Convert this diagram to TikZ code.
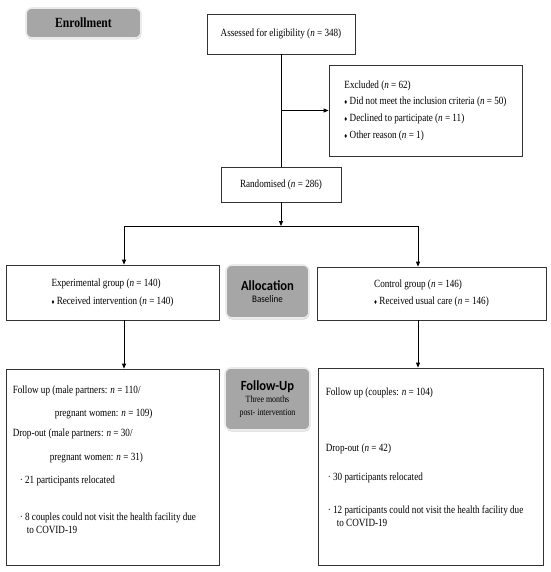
\documentclass[tikz,border=0pt]{standalone}
\usepackage{fontspec}
\setmainfont[FakeStretch=0.83]{Liberation Serif}
\newfontfamily\calfont[FakeStretch=0.9]{Carlito}
\usepackage{xcolor}
\usetikzlibrary{positioning}
\usetikzlibrary{arrows.meta}
\usetikzlibrary{shadows}

\definecolor{stagegray}{HTML}{A6A6A6}
\newcommand{\dmd}{{\fontsize{7}{7}\selectfont ♦}}
\newcommand{\nn}{\textit{n}}

\tikzset{
  flowbox/.style={draw=black!80, line width=0.8pt, fill=white, inner sep=4pt},
  stagebox/.style={draw=black!8, line width=1.6pt, rounded corners=6pt, fill=stagegray, align=center,
    drop shadow={shadow xshift=0.5pt, shadow yshift=-1.5pt, opacity=0.35}},
  flowline/.style={line width=0.8pt},
  flowarrow/.style={-{Triangle[length=5pt,width=4pt]}, line width=0.8pt},
}

\begin{document}
\begin{tikzpicture}[x=1pt, y=-1pt, font=\fontsize{11}{13}\selectfont]
\useasboundingbox (0,0) rectangle (550,572);

% stage labels
\node[stagebox, minimum width=115pt, minimum height=30pt] (enrol) at (83.5,23)
  {\fontsize{14}{16}\selectfont\bfseries Enrollment};
\node[stagebox, minimum width=83pt, minimum height=53pt] (alloc) at (267.5,291.5)
  {{\calfont\bfseries\fontsize{14}{16}\selectfont Allocation}\\[-1pt]{\calfont\fontsize{10}{12}\selectfont Baseline}};
\node[stagebox, minimum width=85pt, minimum height=62pt] (fustage) at (267.5,399)
  {{\calfont\bfseries\fontsize{14}{16}\selectfont Follow-Up}\\[-1pt]{\fontsize{9.5}{11}\selectfont Three months}\\{\fontsize{9.5}{11}\selectfont post- intervention}};

% enrolment
\node[flowbox, minimum width=148pt, minimum height=40pt] (assess) at (281,34)
  {Assessed for eligibility (\nn{} = 348)};
\node[flowbox, minimum width=193pt, minimum height=91pt, align=left] (excl) at (425.5,110.5)
  {Excluded (\nn{} = 62)\\[3.7pt]
   \dmd{} Did not meet the inclusion criteria (\nn{} = 50)\\[3.7pt]
   \dmd{} Declined to participate (\nn{} = 11)\\[3.7pt]
   \dmd{} Other reason (\nn{} = 1)};
\node[flowbox, minimum width=120pt, minimum height=35pt] (rand) at (281,184.5)
  {Randomised (\nn{} = 286)};

% allocation
\node[flowbox, minimum width=213pt, minimum height=55pt, align=left] (exp) at (112.5,292.5)
  {Experimental group (\nn{} = 140)\\[5pt]\dmd{} Received intervention (\nn{} = 140)};
\node[flowbox, minimum width=229pt, minimum height=53pt, align=left] (ctrl) at (431.5,293.5)
  {Control group (\nn{} = 146)\\[4pt]\dmd{} Received usual care (\nn{} = 146)};

% follow-up
\node[flowbox, minimum width=213pt, minimum height=196pt] (fuexp) at (112.5,467) {};
\node[flowbox, minimum width=225pt, minimum height=197pt] (fuctrl) at (430.5,466.5) {};

\node[anchor=north west, inner sep=0pt, align=left] (fuexptext) at ([xshift=7pt,yshift=-17pt]fuexp.north west)
  {Follow up (male partners: \nn{} = 110/\\[10pt]
   \hspace*{42pt}pregnant women: \nn{} = 109)\\[7pt]
   Drop-out (male partners: \nn{} = 30/\\[11pt]
   \hspace*{37pt}pregnant women: \nn{} = 31)\\[10pt]
   \hspace*{7pt}· 21 participants relocated\\[24pt]
   \hspace*{7pt}· 8 couples could not visit the health facility due\\
   \hspace*{14pt}to COVID-19};
\node[anchor=north west, inner sep=0pt, align=left] (fuctrltext) at ([xshift=8pt,yshift=-20pt]fuctrl.north west)
  {Follow up (couples: \nn{} = 104)\\[43pt]
   Drop-out (\nn{} = 42)\\[16pt]
   \hspace*{2pt}· 30 participants relocated\\[20pt]
   \hspace*{2pt}· 12 participants could not visit the health facility due\\
   \hspace*{11pt}to COVID-19};

% connectors
\coordinate (split) at (281,226);
\coordinate (expin) at (124,226);
\coordinate (ctrlin) at (418,226);

\draw[flowline] (assess.south) -- (rand.north);
\draw[flowarrow] (assess.south |- excl.west) -- (excl.west);
\draw[flowarrow] (rand.south) -- (split);
\draw[flowline] (expin) -- (ctrlin);
\draw[flowarrow] (expin) -- (expin |- exp.north);
\draw[flowarrow] (ctrlin) -- (ctrlin |- ctrl.north);
\draw[flowarrow] (expin |- exp.south) -- (expin |- fuexp.north);
\draw[flowarrow] (ctrlin |- ctrl.south) -- (ctrlin |- fuctrl.north);

\end{tikzpicture}
\end{document}
